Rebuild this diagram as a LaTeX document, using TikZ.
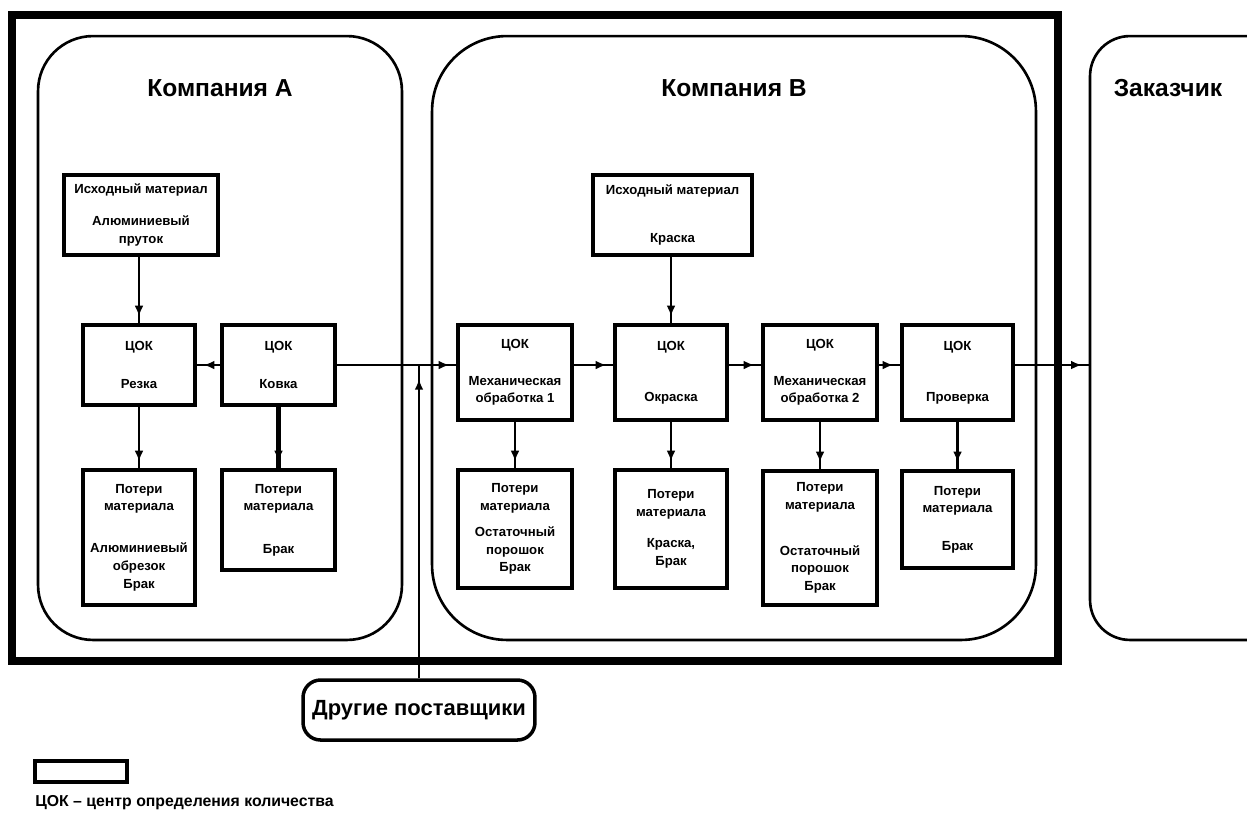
\documentclass[tikz,border=0pt]{standalone}
\usepackage{fontspec}
\setmainfont{Liberation Sans}
\usepackage{tikz}
\usetikzlibrary{arrows.meta}
\usetikzlibrary{decorations.markings}
\begin{document}
\begin{tikzpicture}[x=0.02cm,y=-0.02cm,
        company/.style={draw,line width=1.5pt,minimum height=12.08cm},
        title/.style={font=\fontsize{14}{16}\selectfont\bfseries},
        box/.style={draw,line width=2pt,align=center,inner sep=0pt,font=\fontsize{7.5}{10}\selectfont\bfseries},
        flow/.style={line width=1.3pt,postaction={decorate},
            decoration={markings,mark=at position #1 with {\arrow{Latex[length=6pt,width=5pt]}}}},
        flow/.default=-4pt]
    \useasboundingbox (0,0) rectangle (1247,823);
    \draw[line width=4.5pt] (12,15) rectangle (1058,661);
    \node[company,rounded corners=1.1cm,minimum width=7.28cm] (compA) at (220,338) {};
    \node[company,rounded corners=1.5cm,minimum width=12.08cm] (compB) at (734,338) {};
    \node[company,rounded corners=0.8cm,minimum width=4.2cm] (cust) at (1195,338) {};
    \node[title] (tA) at (220,88) {Компания А};
    \node[title] (tB) at (734,88) {Компания В};
    \node[title] (tC) at (1168,88) {Заказчик};
    \coordinate (ml) at (0,365);

    \node[box,minimum width=3.08cm,minimum height=1.6cm] (srcA) at (141,215) {Исходный материал\\[8pt]Алюминиевый\\пруток};
    \node[box,minimum width=2.24cm,minimum height=1.6cm] (rez) at (139,365) {ЦОК\\[11.5pt]Резка};
    \node[box,minimum width=2.26cm,minimum height=1.6cm] (kov) at (278.5,365) {ЦОК\\[11.5pt]Ковка};
    \node[box,minimum width=2.24cm,minimum height=2.7cm] (lossA1) at (139,537.5) {Потери\\материала\\[14pt]Алюминиевый\\обрезок\\Брак};
    \node[box,minimum width=2.26cm,minimum height=2cm] (lossA2) at (278.5,520) {Потери\\материала\\[14pt]Брак};

    \node[box,minimum width=3.18cm,minimum height=1.6cm] (srcB) at (672.5,215) {Исходный материал\\[17pt]Краска};
    \node[box,minimum width=2.28cm,minimum height=1.9cm] (mech1) at (515,372.5) {ЦОК\\[11pt]Механическая\\обработка 1};
    \node[box,minimum width=2.24cm,minimum height=1.9cm] (okr) at (671,372.5) {ЦОК\\[19pt]Окраска};
    \node[box,minimum width=2.28cm,minimum height=1.9cm] (mech2) at (820,372.5) {ЦОК\\[11pt]Механическая\\обработка 2};
    \node[box,minimum width=2.22cm,minimum height=1.9cm] (prov) at (957.5,372.5) {ЦОК\\[19pt]Проверка};
    \node[box,minimum width=2.28cm,minimum height=2.36cm] (lossB1) at (515,529) {Потери\\материала\\[5pt]Остаточный\\порошок\\Брак};
    \node[box,minimum width=2.24cm,minimum height=2.36cm] (lossB2) at (671,529) {Потери\\материала\\[8pt]Краска,\\Брак};
    \node[box,minimum width=2.28cm,minimum height=2.68cm] (lossB3) at (820,538) {Потери\\материала\\[16pt]Остаточный\\порошок\\Брак};
    \node[box,minimum width=2.22cm,minimum height=1.94cm] (lossB4) at (957.5,519.5) {Потери\\материала\\[11.5pt]Брак};

    \node[draw,line width=2pt,rounded corners=0.35cm,minimum width=4.64cm,minimum height=1.2cm,
        font=\fontsize{12.5}{14}\selectfont\bfseries] (other) at (419,710) {Другие поставщики};
    \node[draw,line width=2.2pt,minimum width=1.84cm,minimum height=0.42cm] (leg) at (81,771.5) {};
    \node[anchor=west,inner sep=0pt,font=\fontsize{9}{11}\selectfont\bfseries] (legt) at (35,803) {ЦОК -- центр определения количества};

    \draw[flow] (rez.north |- srcA.south) -- (rez.north);
    \draw[flow] (kov.west) -- (rez.east);
    \draw[flow] (rez.south) -- (lossA1.north);
    \draw[flow,line width=2.6pt] (kov.south) -- (lossA2.north);
    \draw[flow] (kov.east) -- (mech1.west |- ml);
    \draw[flow=-8pt] (other.north) -- (other.north |- ml);
    \draw[flow] (okr.north |- srcB.south) -- (okr.north);
    \draw[flow] (mech1.east |- ml) -- (okr.west |- ml);
    \draw[flow] (okr.east |- ml) -- (mech2.west |- ml);
    \draw[flow] (mech2.east |- ml) -- (prov.west |- ml);
    \draw[flow] (prov.east |- ml) -- (cust.west |- ml);
    \draw[flow] (mech1.south) -- (lossB1.north);
    \draw[flow] (okr.south) -- (lossB2.north);
    \draw[flow] (mech2.south) -- (lossB3.north);
    \draw[flow] (prov.south) -- (lossB4.north);
\end{tikzpicture}
\end{document}
